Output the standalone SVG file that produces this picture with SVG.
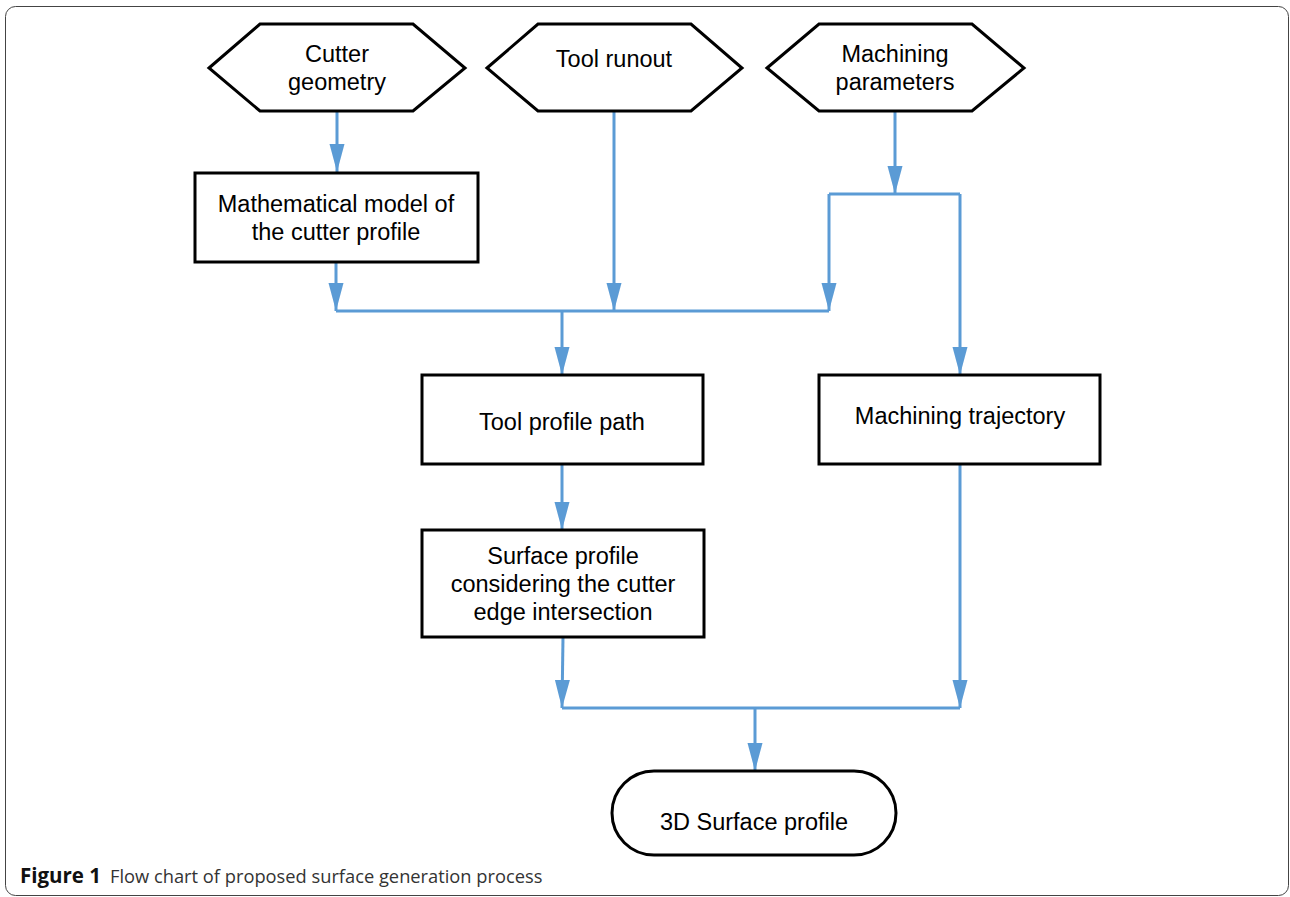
<svg xmlns="http://www.w3.org/2000/svg" width="1290" height="897" viewBox="0 0 1290 897">
<style>
.node{fill:#fff;stroke:#000;stroke-width:3}
.lbl{font-family:'Liberation Sans',Arimo,Arial,Helvetica,sans-serif;font-size:23.5px;fill:#000;text-anchor:middle}
.conn{fill:none;stroke:#5b9bd5;stroke-width:3}
.cap{font-family:'Open Sans','Noto Sans',sans-serif;font-size:18.3px;fill:#333}
.capb{font-family:'Open Sans','Noto Sans',sans-serif;font-size:20.5px;font-weight:bold;fill:#111}
</style>
<defs>
<marker id="ah" markerUnits="userSpaceOnUse" markerWidth="30" markerHeight="16" refX="28" refY="8" orient="auto">
<path d="M0,0.5 L28,8 L0,15.5 z" fill="#5b9bd5"/>
</marker>
</defs>
<rect x="5.5" y="6.5" width="1283" height="889" rx="10" fill="none" stroke="#444" stroke-width="1"/>
<g id="connectors">
<path class="conn" d="M337,111 V172" marker-end="url(#ah)"/>
<path class="conn" d="M336,262 V311" marker-end="url(#ah)"/>
<path class="conn" d="M614,111 V311" marker-end="url(#ah)"/>
<path class="conn" d="M895,111 V194" marker-end="url(#ah)"/>
<path class="conn" d="M829,194 H960"/>
<path class="conn" d="M829,194 V311" marker-end="url(#ah)"/>
<path class="conn" d="M960,194 V375" marker-end="url(#ah)"/>
<path class="conn" d="M336,311 H829"/>
<path class="conn" d="M562,311 V375" marker-end="url(#ah)"/>
<path class="conn" d="M562,464 V530" marker-end="url(#ah)"/>
<path class="conn" d="M563,637 L562,708" marker-end="url(#ah)"/>
<path class="conn" d="M960,464 V708" marker-end="url(#ah)"/>
<path class="conn" d="M562,708 H960"/>
<path class="conn" d="M755,708 V771" marker-end="url(#ah)"/>
</g>
<g id="cutter-geometry">
<polygon class="node" points="209,68 260,24 413,24 465,68 413,111 260,111"/>
<text class="lbl" x="337" y="62">Cutter</text>
<text class="lbl" x="337" y="90">geometry</text>
</g>
<g id="tool-runout">
<polygon class="node" points="487,68 538,24 691,24 742,68 691,111 538,111"/>
<text class="lbl" x="614" y="67">Tool runout</text>
</g>
<g id="machining-parameters">
<polygon class="node" points="767,68 819,24 972,24 1024,68 972,111 819,111"/>
<text class="lbl" x="895" y="62">Machining</text>
<text class="lbl" x="895" y="90">parameters</text>
</g>
<g id="math-model">
<rect class="node" x="195" y="173" width="283" height="89"/>
<text class="lbl" x="336" y="212">Mathematical model of</text>
<text class="lbl" x="336" y="240">the cutter profile</text>
</g>
<g id="tool-profile-path">
<rect class="node" x="422" y="375" width="281" height="89"/>
<text class="lbl" x="562" y="430">Tool profile path</text>
</g>
<g id="machining-trajectory">
<rect class="node" x="819" y="375" width="281" height="89"/>
<text class="lbl" x="960" y="424">Machining trajectory</text>
</g>
<g id="surface-profile">
<rect class="node" x="422" y="530" width="282" height="107"/>
<text class="lbl" x="563" y="564">Surface profile</text>
<text class="lbl" x="563" y="592">considering the cutter</text>
<text class="lbl" x="563" y="620">edge intersection</text>
</g>
<g id="surface-3d">
<rect class="node" x="612" y="771" width="284" height="84" rx="42"/>
<text class="lbl" x="754" y="830">3D Surface profile</text>
</g>
<g id="caption">
<text class="capb" x="20" y="883">Figure 1</text>
<text class="cap" x="110" y="883">Flow chart of proposed surface generation process</text>
</g>
</svg>
